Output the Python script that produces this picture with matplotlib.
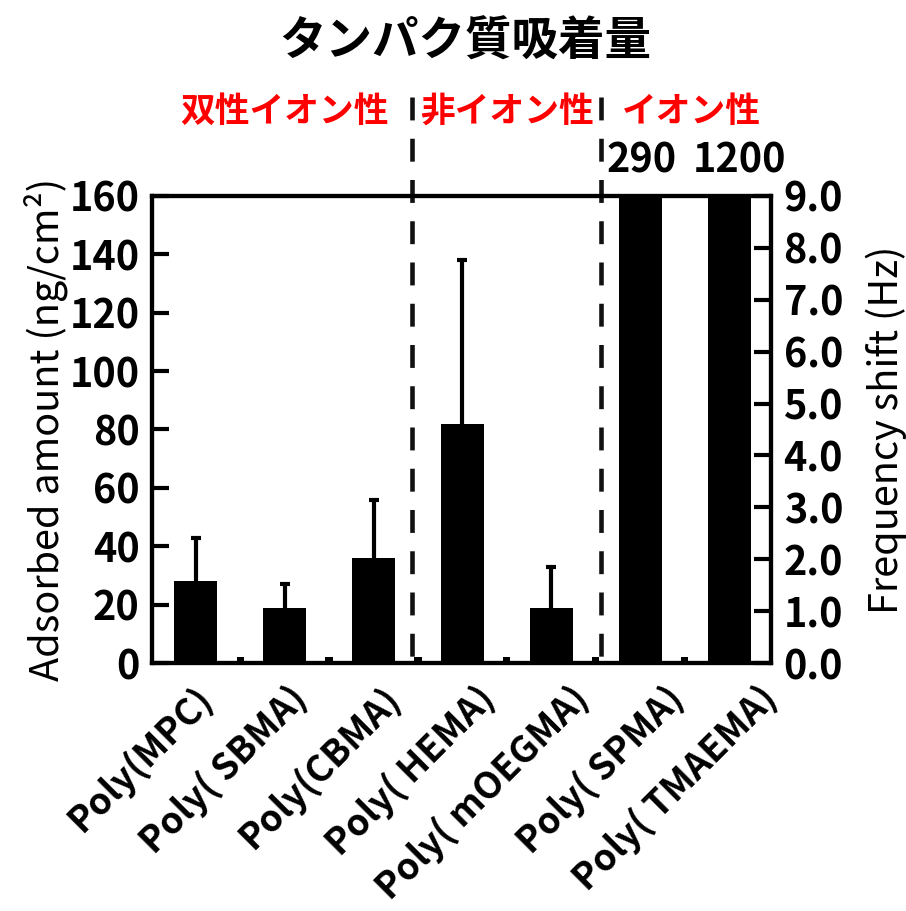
import numpy as np
import matplotlib
matplotlib.use("Agg")
import matplotlib.pyplot as plt
import matplotlib.transforms as mtransforms

plt.rcParams['font.family'] = ['Noto Sans CJK JP', 'DejaVu Sans']

# タンパク質吸着量 (ng/cm2)
polymers = ["Poly(MPC)", "Poly( SBMA)", "Poly(CBMA)", "Poly( HEMA)",
            "Poly( mOEGMA)", "Poly( SPMA)", "Poly( TMAEMA)"]
adsorbed = [28, 19, 36, 82, 19, 290, 1200]
err_up = [15, 8, 20, 56, 14, 0, 0]
# 右隣の小さいバー（ほぼゼロ）
blank = [2.0, 2.0, 2.0, 2.0, 2.0, 2.0]

groups = ["双性イオン性", "非イオン性", "イオン性"]
group_x = [1.0, 3.5, 5.57]
borders = [2.43, 4.56]

fig = plt.figure(figsize=(9.06, 9.11), dpi=100)
ax = fig.add_axes([0.1678, 0.2722, 0.6833, 0.5127])

x = np.arange(len(polymers))
ax.bar(x, adsorbed, width=0.48, color='black', zorder=2)
_, caps, _ = ax.errorbar(x[:5], adsorbed[:5],
                         yerr=[np.zeros(5), err_up[:5]], fmt='none',
                         ecolor='black', elinewidth=3, capsize=3.6,
                         capthick=3, zorder=3)
caps[0].set_visible(False)  # 下側のキャップは描かない
ax.bar(x[:6] + 0.5, blank, width=0.08, color='black', zorder=2)

ax.set_xlim(-0.49, 6.47)
ax.set_ylim(0, 160)
ax.set_yticks(np.arange(0, 161, 20))
ax.set_xticks([])
for s in ax.spines.values():
    s.set_linewidth(3)
ax.tick_params(axis='y', direction='in', length=12, width=3, pad=9,
               labelsize=28.5)
for lab in ax.get_yticklabels():
    lab.set_fontweight('bold')

ax2 = ax.twinx()
ax2.set_ylim(0, 9)
ax2.set_yticks(np.arange(0, 9.1, 1))
ax2.set_yticklabels([f"{v:.1f}" for v in np.arange(0, 9.1, 1)],
                    fontweight='bold')
ax2.tick_params(axis='y', direction='in', length=12, width=3, pad=9,
                labelsize=28.5)
for s in ax2.spines.values():
    s.set_linewidth(3)

ax.set_ylabel("Adsorbed amount (ng/cm²)", fontsize=28.5)
ax.yaxis.set_label_coords(-0.136, 0.5)
ax2.set_ylabel("Frequency shift (Hz)", fontsize=28.5, rotation=90)
ax2.yaxis.set_label_coords(1.152, 0.5)

trans = mtransforms.blended_transform_factory(ax.transData, ax.transAxes)

# 回転したカテゴリラベル
label_x = np.arange(len(polymers)) * 1.058 - 0.03
for lx, name in zip(label_x, polymers):
    ax.text(lx, -0.034, name, transform=trans, rotation=45,
            rotation_mode='anchor', ha='right', va='top',
            fontsize=26.4, fontweight='bold', clip_on=False)

# 区切りの破線
for bx in borders:
    ax.plot([bx, bx], [1.212, 0], transform=trans, color='#111111', lw=3.3,
            dashes=(5, 4), clip_on=False, zorder=4)

for gx, g in zip(group_x, groups):
    ax.text(gx, 1.18, g, transform=trans, ha='center', va='center',
            fontsize=25, fontweight='bold', color='red')

# 軸を超えるバーの値
for i in (5, 6):
    ax.text(x[i] + (0.12 if i == 6 else 0.02), 1.075, str(adsorbed[i]),
            transform=trans, ha='center', va='center', fontsize=28.5,
            fontweight='bold')

fig.text(0.513, 0.954, "タンパク質吸着量", ha='center', va='center',
         fontsize=33.5, fontweight='bold')

fig.savefig("out.png", dpi=100)
